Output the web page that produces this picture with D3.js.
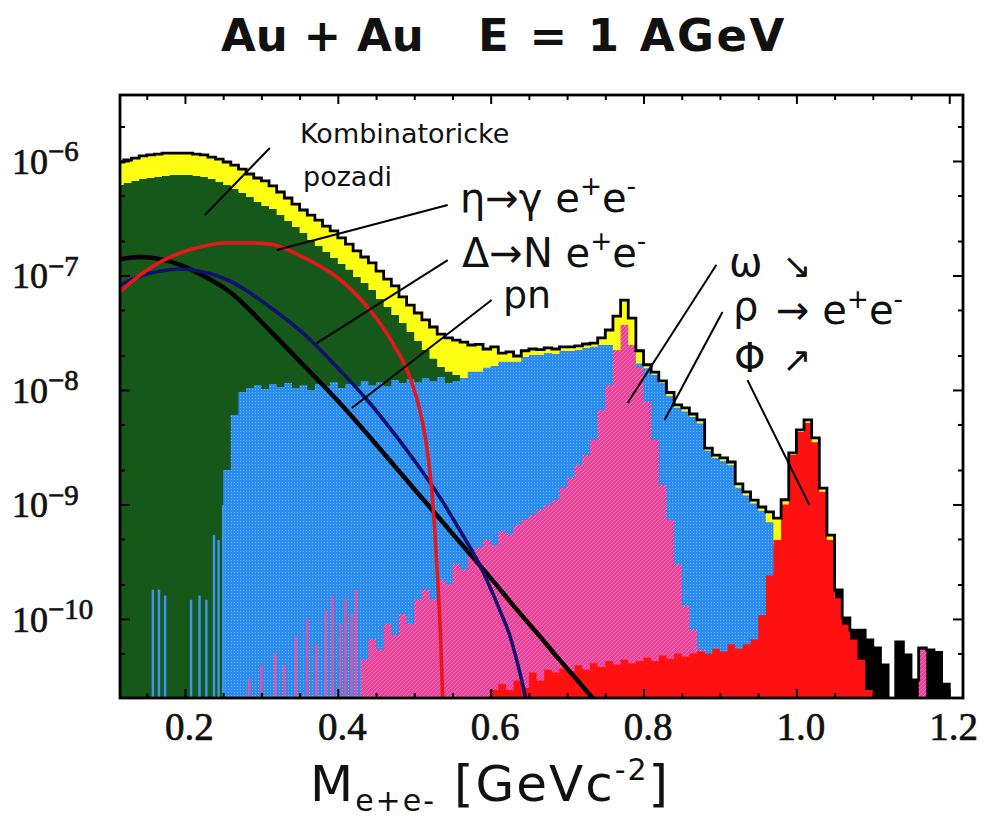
<!DOCTYPE html>
<html>
<head>
<meta charset="utf-8">
<script src="https://cdn.jsdelivr.net/npm/d3@7"></script>
<style>
  body { margin: 0; background: #fff; }
  text { font-family: "DejaVu Sans", sans-serif; fill: #111; }
</style>
</head>
<body>
<div id="chart"></div>
<script>
// histogram binning (GeV)
var binStart = 0.11;
var binWidth = 0.01;

// summed spectrum (black outline, yellow fill), one value per bin from 0.11 to 1.21
var totalVals = [
  9.8e-7, 1.02e-6, 1.06e-6, 1.11e-6, 1.13e-6, 1.15e-6, 1.17e-6, 1.17e-6, 1.17e-6, 1.17e-6,
  1.15e-6, 1.13e-6, 1.08e-6, 1.04e-6, 9.8e-7, 9.2e-7, 8.5e-7, 7.7e-7, 7.1e-7, 6.7e-7,
  6.05e-7, 5.36e-7, 4.75e-7, 4.2e-7, 3.73e-7, 3.37e-7, 3.05e-7, 2.7e-7, 2.45e-7, 2.13e-7,
  1.88e-7, 1.64e-7, 1.45e-7, 1.29e-7, 1.09e-7, 9.3e-8, 8.1e-8, 6.5e-8, 5.5e-8, 4.7e-8,
  4.1e-8, 3.55e-8, 3.08e-8, 2.85e-8, 2.73e-8, 2.62e-8, 2.47e-8, 2.5e-8, 2.28e-8, 2.38e-8,
  2.1e-8, 2.15e-8, 1.98e-8, 2.2e-8, 2.28e-8, 2.25e-8, 2.33e-8, 2.28e-8, 2.38e-8, 2.38e-8,
  2.43e-8, 2.52e-8, 2.57e-8, 2.85e-8, 3.34e-8, 4.42e-8, 6.1e-8, 4.25e-8, 2.2e-8, 1.66e-8,
  1.43e-8, 1.2e-8, 9.5e-9, 7.4e-9, 6.97e-9, 6.17e-9, 5.47e-9, 3.11e-9, 2.7e-9, 2.55e-9,
  2.35e-9, 1.51e-9, 1.29e-9, 1.09e-9, 9.5e-10, 8.6e-10, 7.6e-10, 1.1e-9, 2.82e-9, 4.48e-9,
  5.47e-9, 3.81e-9, 1.39e-9, 5.4e-10, 1.79e-10, 1.02e-10, 8e-11, 8e-11, 6.56e-11, 5.6e-11,
  3.97e-11, 0, 6.3e-11, 4.86e-11, 2.93e-11, 5.6e-11, 5.37e-11, 5.1e-11, 2.7e-11, 0, 0
];

// combinatorial background (green)
var greenVals = [
  6.17e-7, 6.43e-7, 6.68e-7, 6.96e-7, 7.11e-7, 7.25e-7, 7.4e-7, 7.55e-7, 7.55e-7, 7.55e-7,
  7.4e-7, 7.25e-7, 6.96e-7, 6.56e-7, 6.17e-7, 5.69e-7, 5.26e-7, 4.85e-7, 4.39e-7, 4.05e-7,
  3.81e-7, 3.38e-7, 2.99e-7, 2.65e-7, 2.35e-7, 2.04e-7, 1.81e-7, 1.6e-7, 1.42e-7, 1.26e-7,
  1.12e-7, 9.7e-8, 8.6e-8, 7.46e-8, 6.23e-8, 5.31e-8, 4.52e-8, 3.85e-8, 3.21e-8, 2.68e-8,
  2.23e-8, 1.87e-8, 1.59e-8, 1.44e-8, 1.35e-8, 1.1e-8, 0, 0, 0, 0,
  0, 0, 0, 0, 0, 0, 0, 0, 0, 0,
  0, 0, 0, 0, 0, 0, 0, 0, 0, 0,
  0, 0, 0, 0, 0, 0, 0, 0, 0, 0,
  0, 0, 0, 0, 0, 0, 0, 0, 0, 0,
  0, 0, 0, 0, 0, 0, 0, 0, 0, 0,
  0, 0, 0, 0, 0, 0, 0, 0, 0, 0, 0
];

// rho contribution (blue)
var blueVals = [
  0, 0, 0, 0, 0, 0, 0, 0, 0, 0,
  0, 0, 0, 0, 2.0e-9, 6.05e-9, 9.6e-9, 1.04e-8, 1.1e-8, 1.02e-8,
  1.13e-8, 1.06e-8, 1.15e-8, 1.04e-8, 1.1e-8, 1.0e-8, 1.13e-8, 1.08e-8, 1.17e-8, 1.04e-8,
  1.13e-8, 1.08e-8, 1.2e-8, 1.1e-8, 1.17e-8, 1.08e-8, 1.22e-8, 1.15e-8, 1.25e-8, 1.17e-8,
  1.27e-8, 1.2e-8, 1.3e-8, 1.15e-8, 1.2e-8, 1.27e-8, 1.44e-8, 1.44e-8, 1.56e-8, 1.62e-8,
  1.76e-8, 1.76e-8, 1.76e-8, 1.94e-8, 2.02e-8, 2.02e-8, 2.1e-8, 2.06e-8, 2.19e-8, 2.19e-8,
  2.23e-8, 2.33e-8, 2.38e-8, 2.47e-8, 2.47e-8, 2.15e-8, 2.02e-8, 1.83e-8, 1.7e-8, 1.55e-8,
  1.36e-8, 1.15e-8, 8.8e-9, 7e-9, 6.5e-9, 5.8e-9, 5.1e-9, 2.95e-9, 2.55e-9, 2.4e-9,
  2.2e-9, 1.4e-9, 1.2e-9, 1.02e-9, 8.8e-10, 7e-10, 4.5e-10, 1.47e-10, 5.4e-11, 0,
  0, 0, 0, 0, 0, 0, 0, 0, 0, 0,
  0, 0, 0, 0, 0, 0, 0, 0, 0, 0, 0
];

// omega peak (pink)
var pinkVals = [
  0, 0, 0, 0, 0, 0, 0, 0, 0, 0,
  0, 0, 0, 0, 0, 0, 0, 0, 0, 0,
  0, 0, 0, 0, 0, 0, 0, 0, 0, 0,
  0, 0, 4.4e-11, 6.6e-11, 5.4e-11, 9e-11, 7.2e-11, 1.1e-10, 9e-11, 1.47e-10,
  1.8e-10, 1.47e-10, 2.2e-10, 2.0e-10, 3.0e-10, 2.7e-10, 3.6e-10, 4.2e-10, 4.9e-10, 4.4e-10,
  5.8e-10, 5.5e-10, 6.6e-10, 7.3e-10, 8.1e-10, 9e-10, 9.9e-10, 1.09e-9, 1.39e-9, 1.7e-9,
  2.2e-9, 2.7e-9, 3.65e-9, 6.7e-9, 1.1e-8, 2.23e-8, 3.7e-8, 2.47e-8, 1.56e-8, 7.9e-9,
  3.65e-9, 1.48e-9, 7.3e-10, 3e-10, 1.3e-10, 8e-11, 5.4e-11, 3.6e-11, 0, 0,
  0, 0, 0, 0, 0, 0, 0, 0, 0, 0,
  0, 0, 0, 0, 0, 0, 0, 0, 0, 0,
  0, 0, 0, 0, 0, 5.4e-11, 0, 0, 0, 0, 0
];

// phi peak and low tail (red)
var redVals = [
  0, 0, 0, 0, 0, 0, 0, 0, 0, 0,
  0, 0, 0, 0, 0, 0, 0, 0, 0, 0,
  0, 0, 0, 0, 0, 0, 0, 0, 0, 0,
  0, 0, 0, 0, 0, 0, 0, 0, 0, 0,
  0, 0, 0, 0, 0, 0, 0, 0, 0, 2.4e-11,
  2.7e-11, 2.4e-11, 2.9e-11, 2.5e-11, 3.4e-11, 2.9e-11, 3.6e-11, 3.4e-11, 3.7e-11, 3.5e-11,
  3.95e-11, 3.6e-11, 4.1e-11, 3.8e-11, 4.3e-11, 4e-11, 4.4e-11, 4.1e-11, 4.3e-11, 4.6e-11,
  4.3e-11, 4.8e-11, 4.5e-11, 5e-11, 4.7e-11, 5e-11, 5.2e-11, 5e-11, 5.5e-11, 5.2e-11,
  6e-11, 5.5e-11, 6e-11, 6.6e-11, 1.08e-10, 2.4e-10, 4.9e-10, 1e-9, 2.7e-9, 4.3e-9,
  5.15e-9, 3.5e-9, 1.29e-9, 4.9e-10, 1.52e-10, 8.9e-11, 6.6e-11, 4.4e-11, 2.4e-11, 0,
  0, 0, 0, 0, 0, 0, 0, 0, 0, 0, 0
];

// thin single-channel spikes near the bottom
var blueSpikeMass = [0.158, 0.166, 0.174, 0.208, 0.219, 0.228, 0.238, 0.244, 0.25];
var blueSpikeVals = [1.8e-10, 1.8e-10, 1.6e-10, 1.47e-10, 1.6e-10, 1.47e-10, 5.4e-10, 4.9e-10, 9.9e-10];
var pinkSpikeMass = [0.284, 0.3, 0.318, 0.33, 0.345, 0.36, 0.372, 0.384, 0.393, 0.403, 0.41, 0.418, 0.424];
var pinkSpikeVals = [3e-11, 4e-11, 5e-11, 4e-11, 7e-11, 1e-10, 6e-11, 1.2e-10, 1.6e-10, 9e-11, 1.5e-10, 1.1e-10, 1.8e-10];

// region where the summed spectrum is drawn solid black
var darkTailFrom = 1.05;

// smooth source curves
var etaMass = [0.115, 0.1412, 0.1673, 0.1935, 0.2196, 0.2523, 0.285, 0.3111, 0.3542, 0.3987, 0.4418, 0.4719, 0.4941, 0.5072, 0.515, 0.5216, 0.5268, 0.5307, 0.5346, 0.5373];
var etaVals = [7.18e-8, 1.01e-7, 1.31e-7, 1.57e-7, 1.77e-7, 1.92e-7, 1.92e-7, 1.88e-7, 1.45e-7, 9.7e-8, 5.0e-8, 2.57e-8, 1.3e-8, 6.7e-9, 3.66e-9, 1.64e-9, 5.98e-10, 2.19e-10, 6.56e-11, 1.96e-11];
var deltaMass = [0.115, 0.1412, 0.1673, 0.1935, 0.2196, 0.2588, 0.3111, 0.3542, 0.3987, 0.4418, 0.4771, 0.5072, 0.5333, 0.5595, 0.5856, 0.6118, 0.6248, 0.634, 0.6405, 0.6458];
var deltaVals = [8.26e-8, 9.9e-8, 1.09e-7, 1.14e-7, 1.09e-7, 8.95e-8, 5.31e-8, 3.15e-8, 1.59e-8, 7.7e-9, 3.89e-9, 2.08e-9, 1.16e-9, 5.98e-10, 2.96e-10, 1.2e-10, 7.24e-11, 4.39e-11, 2.93e-11, 2.04e-11];
var pnMass = [0.115, 0.1412, 0.1673, 0.1935, 0.2196, 0.2588, 0.3111, 0.3542, 0.3987, 0.4418, 0.481, 0.5203, 0.5595, 0.5987, 0.6379, 0.6706, 0.6902, 0.7098, 0.7333];
var pnVals = [1.39e-7, 1.45e-7, 1.39e-7, 1.24e-7, 1.03e-7, 7.18e-8, 3.3e-8, 1.67e-8, 8.2e-9, 3.89e-9, 1.92e-9, 9.5e-10, 4.7e-10, 2.33e-10, 1.13e-10, 6.3e-11, 4.39e-11, 3.11e-11, 2.04e-11];

// axis ticks
var xMajorTicks = [0.2, 0.4, 0.6, 0.8, 1.0, 1.2];
var xTickLabels = ["0.2", "0.4", "0.6", "0.8", "1.0", "1.2"];
var xMinorTicks = [0.15, 0.25, 0.3, 0.35, 0.45, 0.5, 0.55, 0.65, 0.7, 0.75, 0.85, 0.9, 0.95, 1.05, 1.1, 1.15];
var yMajorTicks = [1e-6, 1e-7, 1e-8, 1e-9, 1e-10];
var yExponents = ["\u22126", "\u22127", "\u22128", "\u22129", "\u221210"];
var yMinorTicks = [5e-11, 2e-10, 5e-10, 2e-9, 5e-9, 2e-8, 5e-8, 2e-7, 5e-7, 2e-6];

// annotation pointer lines, [mass, value] at both ends
var pointerFrom = [[0.311, 1.3e-6], [0.5438, 4.13e-7], [0.5438, 1.36e-7], [0.6013, 6.1e-8], [0.8954, 1.24e-7], [0.9033, 4.8e-8], [0.936, 1.22e-8]];
var pointerTo = [[0.226, 3.37e-7], [0.3203, 1.67e-7], [0.3725, 2.57e-8], [0.4183, 6.97e-9], [0.7791, 7.69e-9], [0.8275, 5.47e-9], [1.017, 9.9e-10]];

var svgWidth = 987;
var svgHeight = 818;
var margin = { top: 95, right: 24, bottom: 120, left: 120 };
var width = svgWidth - margin.left - margin.right;
var height = svgHeight - margin.top - margin.bottom;

var svg = d3.select("#chart")
  .append("svg")
  .attr("width", svgWidth)
  .attr("height", svgHeight);

var defs = svg.append("defs");
defs.append("clipPath").attr("id", "plotclip")
  .append("rect").attr("width", width).attr("height", height);

// halftone-like textures of the printed figure
var bluePat = defs.append("pattern").attr("id", "bluedots")
  .attr("width", 3).attr("height", 3).attr("patternUnits", "userSpaceOnUse");
bluePat.append("rect").attr("width", 3).attr("height", 3).attr("fill", "#2a8cf0");
bluePat.append("rect").attr("width", 1).attr("height", 1).attr("fill", "#70b6f8");

var pinkPat = defs.append("pattern").attr("id", "pinkhatch")
  .attr("width", 4).attr("height", 4).attr("patternUnits", "userSpaceOnUse");
pinkPat.append("rect").attr("width", 4).attr("height", 4).attr("fill", "#ef3a96");
pinkPat.append("path").attr("d", "M0,4L4,0").attr("stroke", "#f799c8").attr("stroke-width", 0.8);

var chartGroup = svg.append("g")
  .attr("transform", `translate(${margin.left}, ${margin.top})`);

var xScale = d3.scaleLinear().domain([0.115, 1.218]).range([0, width]);
var yScale = d3.scaleLog().domain([2.04e-11, 3.77e-6]).range([height, 0]);

function yVal(v) {
  return v > 0 ? yScale(v) : height + 6;
}

function histPoints(vals) {
  var pts = vals.map(function(v, i) { return [binStart + i * binWidth, v]; });
  pts.push([binStart + vals.length * binWidth, vals[vals.length - 1]]);
  return pts;
}

var histArea = d3.area()
  .curve(d3.curveStepAfter)
  .x(d => xScale(d[0]))
  .y0(height + 6)
  .y1(d => yVal(d[1]));

var histLine = d3.line()
  .curve(d3.curveStepAfter)
  .x(d => xScale(d[0]))
  .y(d => yVal(d[1]));

var plot = chartGroup.append("g").attr("clip-path", "url(#plotclip)");

// summed spectrum first, components on top
plot.append("path").attr("d", histArea(histPoints(totalVals))).attr("fill", "#ffff14");
plot.append("path")
  .attr("d", histArea(histPoints(totalVals).filter(d => d[0] >= darkTailFrom - 1e-9)))
  .attr("fill", "#000");
plot.append("path").attr("d", histArea(histPoints(greenVals))).attr("fill", "#16581a");
plot.append("path").attr("d", histArea(histPoints(blueVals))).attr("fill", "url(#bluedots)");

plot.selectAll(".bspike")
  .data(blueSpikeMass)
  .enter()
  .append("rect")
  .attr("x", d => xScale(d) - 1.2)
  .attr("width", 2.4)
  .attr("y", (d, i) => yScale(blueSpikeVals[i]))
  .attr("height", (d, i) => height - yScale(blueSpikeVals[i]))
  .attr("fill", "#3d96f0");

plot.append("path").attr("d", histArea(histPoints(pinkVals))).attr("fill", "url(#pinkhatch)");

plot.selectAll(".pspike")
  .data(pinkSpikeMass)
  .enter()
  .append("rect")
  .attr("x", d => xScale(d) - 1.2)
  .attr("width", 2.4)
  .attr("y", (d, i) => yScale(pinkSpikeVals[i]))
  .attr("height", (d, i) => height - yScale(pinkSpikeVals[i]))
  .attr("fill", "#ef4b9f");

plot.append("path").attr("d", histArea(histPoints(redVals))).attr("fill", "#ff1111");

plot.append("path")
  .attr("d", histLine(histPoints(totalVals)))
  .attr("fill", "none")
  .attr("stroke", "#000")
  .attr("stroke-width", 2.8);

// source curves
var curveLine = d3.line()
  .curve(d3.curveMonotoneX)
  .x(d => xScale(d[0]))
  .y(d => yScale(d[1]));

plot.append("path")
  .attr("d", curveLine(pnMass.map((m, i) => [m, pnVals[i]])))
  .attr("fill", "none").attr("stroke", "#000").attr("stroke-width", 4.5);
plot.append("path")
  .attr("d", curveLine(deltaMass.map((m, i) => [m, deltaVals[i]])))
  .attr("fill", "none").attr("stroke", "#12126e").attr("stroke-width", 3.6);
plot.append("path")
  .attr("d", curveLine(etaMass.map((m, i) => [m, etaVals[i]])))
  .attr("fill", "none").attr("stroke", "#e8161a").attr("stroke-width", 3.6);

// frame and inward ticks on all four sides
chartGroup.append("rect")
  .attr("width", width).attr("height", height)
  .attr("fill", "none").attr("stroke", "#000").attr("stroke-width", 2.8);

function styleAxis(g) {
  g.select(".domain").remove();
  g.selectAll(".tick line").attr("stroke", "#000").attr("stroke-width", 2);
}

chartGroup.append("g")
  .attr("transform", `translate(0, ${height})`)
  .call(d3.axisBottom(xScale).tickValues(xMinorTicks).tickSize(-5).tickFormat(""))
  .call(styleAxis);
var xAxis = chartGroup.append("g")
  .attr("transform", `translate(0, ${height})`)
  .call(d3.axisBottom(xScale).tickValues(xMajorTicks).tickSize(-9).tickPadding(14)
    .tickFormat((d, i) => xTickLabels[i]))
  .call(styleAxis);
xAxis.selectAll("text")
  .attr("x", 4)
  .style("font-family", "'Liberation Serif', 'DejaVu Serif', serif")
  .style("font-size", "39px")
  .style("fill", "#111")
  .style("stroke", "#111")
  .style("stroke-width", "0.7px");

chartGroup.append("g")
  .call(d3.axisTop(xScale).tickValues(xMinorTicks).tickSize(-5).tickFormat(""))
  .call(styleAxis);
chartGroup.append("g")
  .call(d3.axisTop(xScale).tickValues(xMajorTicks).tickSize(-9).tickFormat(""))
  .call(styleAxis);

chartGroup.append("g")
  .call(d3.axisLeft(yScale).tickValues(yMinorTicks).tickSize(-5).tickFormat(""))
  .call(styleAxis);
chartGroup.append("g")
  .call(d3.axisLeft(yScale).tickValues(yMajorTicks).tickSize(-10).tickFormat(""))
  .call(styleAxis);
chartGroup.append("g")
  .attr("transform", `translate(${width}, 0)`)
  .call(d3.axisRight(yScale).tickValues(yMinorTicks).tickSize(-5).tickFormat(""))
  .call(styleAxis);
chartGroup.append("g")
  .attr("transform", `translate(${width}, 0)`)
  .call(d3.axisRight(yScale).tickValues(yMajorTicks).tickSize(-10).tickFormat(""))
  .call(styleAxis);

// text with super/subscripts
function richText(parent, x, y, parts, size, supShift, smallRatio) {
  var ratio = smallRatio || 0.66;
  var t = parent.append("text").attr("x", x).attr("y", y).style("font-size", size + "px");
  var off = 0;
  parts.forEach(function(p) {
    var target = p[1] === "sup" ? -size * supShift : (p[1] === "sub" ? size * 0.2 : 0);
    t.append("tspan")
      .attr("dy", target - off)
      .style("font-size", (p[1] === "n" ? size : size * ratio) + "px")
      .text(p[0]);
    off = target;
  });
  return t;
}

// y tick labels 10^n
yMajorTicks.forEach(function(v, i) {
  richText(svg, 12, margin.top + yScale(v) + 13, [["10", "n"], [yExponents[i], "sup"]], 36, 0.36, 0.8)
    .style("font-family", "'Liberation Serif', 'DejaVu Serif', serif")
    .style("stroke", "#111")
    .style("stroke-width", "0.7px");
});

// title
svg.append("text").attr("x", 221).attr("y", 51)
  .style("font-family", "'DejaVu Sans', sans-serif").style("font-weight", "bold").style("font-size", "45px")
  .text("Au + Au");
svg.append("text").attr("x", 478).attr("y", 51)
  .style("font-family", "'DejaVu Sans', sans-serif").style("font-weight", "bold").style("font-size", "45px")
  .style("letter-spacing", "2.5px")
  .text("E = 1 AGeV");

// x axis title
richText(svg, 310, 801, [["M", "n"], ["e+e-", "sub"], [" [GeVc", "n"], ["-2", "sup"], ["]", "n"]], 50, 0.42, 0.6)
  .style("letter-spacing", "2px");

// pointer lines
chartGroup.selectAll(".pointer")
  .data(pointerFrom)
  .enter()
  .append("line")
  .attr("x1", d => xScale(d[0]))
  .attr("y1", d => yScale(d[1]))
  .attr("x2", (d, i) => xScale(pointerTo[i][0]))
  .attr("y2", (d, i) => yScale(pointerTo[i][1]))
  .attr("stroke", "#000")
  .attr("stroke-width", 2);

// annotations
svg.append("text").attr("x", 300).attr("y", 143).style("font-size", "27px").text("Kombinatoricke");
svg.append("text").attr("x", 303).attr("y", 186).style("font-size", "27px").text("pozadi");
richText(svg, 460, 212, [["η→γ e", "n"], ["+", "sup"], ["e", "n"], ["-", "sup"]], 40, 0.42);
richText(svg, 462, 267, [["Δ→N e", "n"], ["+", "sup"], ["e", "n"], ["-", "sup"]], 40, 0.42);
svg.append("text").attr("x", 503).attr("y", 308).style("font-size", "38px").text("pn");

svg.append("text").attr("x", 729).attr("y", 276).style("font-size", "40px").text("ω");
svg.append("text").attr("x", 782).attr("y", 278).style("font-size", "35px").text("↘");
svg.append("text").attr("x", 733).attr("y", 320).style("font-size", "40px").text("ρ");
richText(svg, 776, 324, [["→ e", "n"], ["+", "sup"], ["e", "n"], ["-", "sup"]], 40, 0.4);
svg.append("text").attr("x", 734).attr("y", 372).style("font-size", "40px").text("Φ");
svg.append("text").attr("x", 782).attr("y", 372).style("font-size", "35px").text("↗");
</script>
</body>
</html>
